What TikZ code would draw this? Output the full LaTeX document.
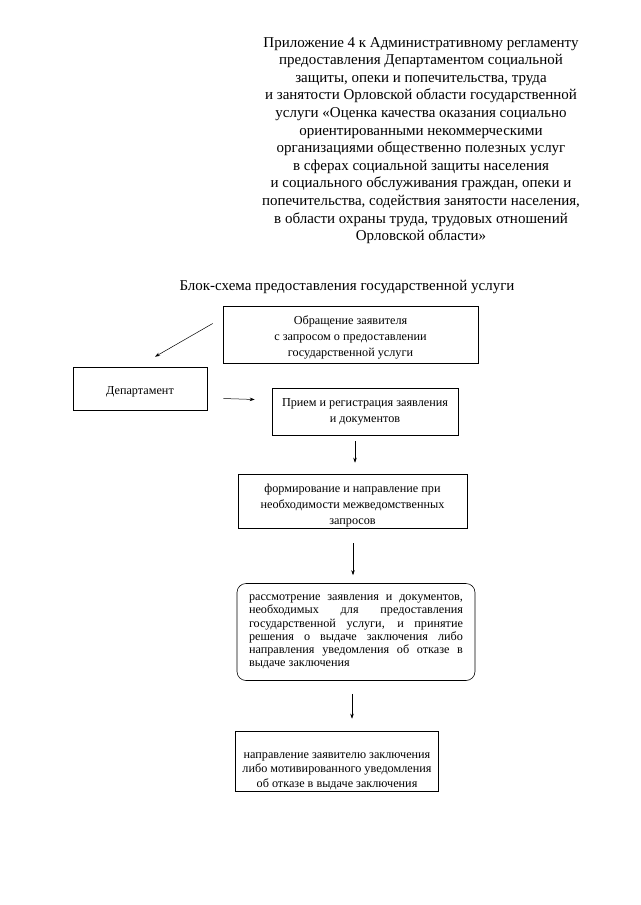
\documentclass[tikz,border=0pt]{standalone}
\usepackage{fontspec}
\setmainfont{Liberation Serif}
\usetikzlibrary{arrows.meta}
\begin{document}
\begin{tikzpicture}[x=1pt, y=-1pt,
  box/.style={draw, line width=0.6pt, inner sep=0pt, align=center, font=\fontsize{12.2}{16}\selectfont},
  rbox/.style={draw, line width=0.6pt, rounded corners=9pt, inner xsep=12pt, inner ysep=4pt, text width=214pt, align=justify, font=\fontsize{12.2}{13.2}\selectfont},
  arr/.style={line width=0.5pt, -{Stealth[length=5pt, width=3.5pt]}}]
\useasboundingbox (0, 0) rectangle (640, 905);
\node[anchor=north, align=center, inner sep=0pt, font=\fontsize{15}{17.6}\selectfont] (head) at (421, 37) {Приложение 4 к Административному регламенту\\
предоставления Департаментом социальной\\
защиты, опеки и попечительства, труда\\
и занятости Орловской области государственной\\
услуги «Оценка качества оказания социально\\
ориентированными некоммерческими\\
организациями общественно полезных услуг\\
в сферах социальной защиты населения\\
и социального обслуживания граждан, опеки и\\
попечительства, содействия занятости населения,\\
в области охраны труда, трудовых отношений\\
Орловской области»};
\node[inner sep=0pt, font=\fontsize{15}{16}\selectfont] (title) at (347, 287) {Блок-схема предоставления государственной услуги};
\node[box, minimum width=255pt, minimum height=57pt] (obr) at (350.5, 334.5) {\rule{0pt}{14pt}Обращение заявителя\\ с запросом о предоставлении\\ государственной услуги};
\node[box, minimum width=134pt, minimum height=43pt] (dep) at (140, 388.5) {\rule{0pt}{14pt}Департамент};
\node[box, minimum width=186pt, minimum height=47pt] (priem) at (365, 411.5) {Прием и регистрация заявления\\ и документов};
\node[box, minimum width=229pt, minimum height=54pt] (form) at (352.5, 501) {\rule{0pt}{18pt}формирование и направление при\\ необходимости межведомственных\\ запросов};
\node[rbox, minimum height=97pt] (rasm) at (356, 632) {рассмотрение заявления и документов,\linebreak необходимых для предоставления\linebreak государственной услуги, и принятие\linebreak решения о выдаче заключения либо\linebreak направления уведомления об отказе в\linebreak выдаче заключения};
\node[box, minimum width=203pt, minimum height=60pt, font=\fontsize{12.2}{14.5}\selectfont] (napr) at (337, 761) {\rule{0pt}{26pt}направление заявителю заключения\\ либо мотивированного уведомления\\ об отказе в выдаче заключения};
% arrows
\draw[arr] ([xshift=-10pt, yshift=11pt]obr.west) -- ([xshift=15pt, yshift=10pt]dep.north);
\draw[arr] ([xshift=16pt, yshift=-10pt]dep.east) -- ([xshift=-17pt, yshift=12pt]priem.west);
\draw[arr] ([xshift=-10pt, yshift=-6pt]priem.south) -- ([xshift=2.5pt, yshift=11pt]form.north);
\draw[arr] ([xshift=0.5pt, yshift=-15pt]form.south) -- ([xshift=-3pt, yshift=8pt]rasm.north);
\draw[arr] ([xshift=-4pt, yshift=-13pt]rasm.south) -- ([xshift=15pt, yshift=12pt]napr.north);
\end{tikzpicture}
\end{document}
